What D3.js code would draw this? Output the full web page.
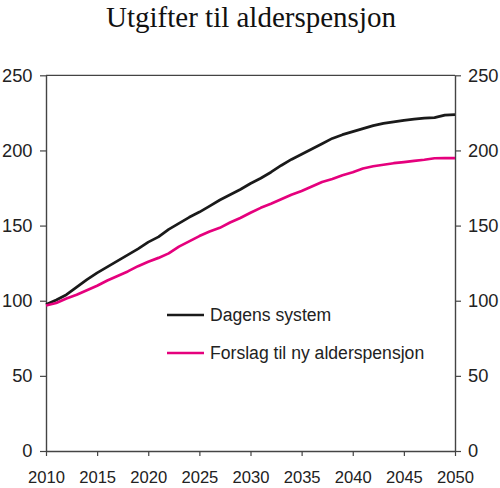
<!DOCTYPE html>
<html>
<head>
<meta charset="utf-8">
<script src="https://cdn.jsdelivr.net/npm/d3@7"></script>
<style>
  html, body { margin: 0; padding: 0; background: #fff; }
  svg { display: block; }
</style>
</head>
<body>
<svg id="chart" width="500" height="488"></svg>
<script>
const title = "Utgifter til alderspensjon";
const years = d3.range(2010, 2051);
const seriesNames = ["Dagens system", "Forslag til ny alderspensjon"];
const dagens = [97.5, 100.5, 104, 109, 114, 118.5, 122.5, 126.5, 130.5, 134.5,
  139, 142.5, 147.5, 151.5, 155.5, 159, 163, 167, 170.5, 174,
  178, 181.5, 185.5, 190, 194, 197.5, 201, 204.5, 208, 210.5,
  212.5, 214.5, 216.5, 218, 219, 220, 220.8, 221.5, 221.8, 223.5, 223.8];
const forslag = [96.8, 98.5, 101.5, 104, 107, 110, 113.5, 116.5, 119.5, 123,
  126, 128.5, 131.5, 136, 139.5, 143, 146, 148.5, 152, 155,
  158.5, 161.8, 164.5, 167.5, 170.5, 173, 176, 179, 181, 183.5,
  185.5, 188, 189.5, 190.5, 191.5, 192.2, 193, 193.8, 194.8, 194.9, 194.9];
const yTicks = [0, 50, 100, 150, 200, 250];
const xTicks = [2010, 2015, 2020, 2025, 2030, 2035, 2040, 2045, 2050];

const colors = ["#1a1a1a", "#e5007d"];
const svg = d3.select("#chart");
const L = 46, R = 455, T = 75.3, B = 451;
const x = d3.scaleLinear().domain([2010, 2050]).range([L, R]);
const y = d3.scaleLinear().domain([0, 250]).range([B, T]);
const axisColor = "#444";
const font = "Arial, 'Liberation Sans', sans-serif";

svg.append("text")
  .attr("x", 251).attr("y", 27)
  .attr("text-anchor", "middle")
  .attr("font-family", "'Liberation Serif', 'Times New Roman', serif")
  .attr("font-size", 29)
  .attr("fill", "#111")
  .text(title);

// frame top
svg.append("line").attr("x1", L).attr("x2", R).attr("y1", T).attr("y2", T)
  .attr("stroke", axisColor).attr("stroke-width", 1.2);

function styleAxis(size) {
  return g => {
    g.selectAll("path, line").attr("stroke", axisColor).attr("stroke-width", 1.2);
    g.select(".domain").attr("stroke-width", 1.4);
    g.selectAll("text").attr("font-family", font).attr("font-size", size).attr("fill", "#222");
  };
}

svg.append("g").attr("transform", `translate(${L},0)`)
  .call(d3.axisLeft(y).tickValues(yTicks).tickSize(6).tickSizeOuter(0).tickPadding(7.5))
  .call(styleAxis(18.3));
svg.append("g").attr("transform", `translate(${R},0)`)
  .call(d3.axisRight(y).tickValues(yTicks).tickSize(6).tickSizeOuter(0).tickPadding(7))
  .call(styleAxis(18.3));
const xg = svg.append("g").attr("transform", `translate(0,${B})`)
  .call(d3.axisBottom(x).tickValues(xTicks).tickFormat(d3.format("d")).tickSize(5).tickSizeOuter(0))
  .call(styleAxis(16.6));
xg.selectAll(".tick text").attr("y", 32).attr("dy", 0);

const line = d3.line().x((d, i) => x(years[i])).y(d => y(d)).curve(d3.curveLinear);
[dagens, forslag].forEach((s, i) => {
  svg.append("path").datum(s)
    .attr("d", line)
    .attr("fill", "none")
    .attr("stroke", colors[i])
    .attr("stroke-width", 2.7)
    .attr("stroke-linejoin", "round");
});

// legend
const legY = [315, 353];
seriesNames.forEach((n, i) => {
  svg.append("line").attr("x1", 167).attr("x2", 204)
    .attr("y1", legY[i]).attr("y2", legY[i])
    .attr("stroke", colors[i]).attr("stroke-width", 2.7);
  svg.append("text").attr("x", 210).attr("y", legY[i] + 6.2)
    .attr("font-family", font).attr("font-size", 17.6).attr("fill", "#222")
    .text(n);
});
</script>
</body>
</html>
